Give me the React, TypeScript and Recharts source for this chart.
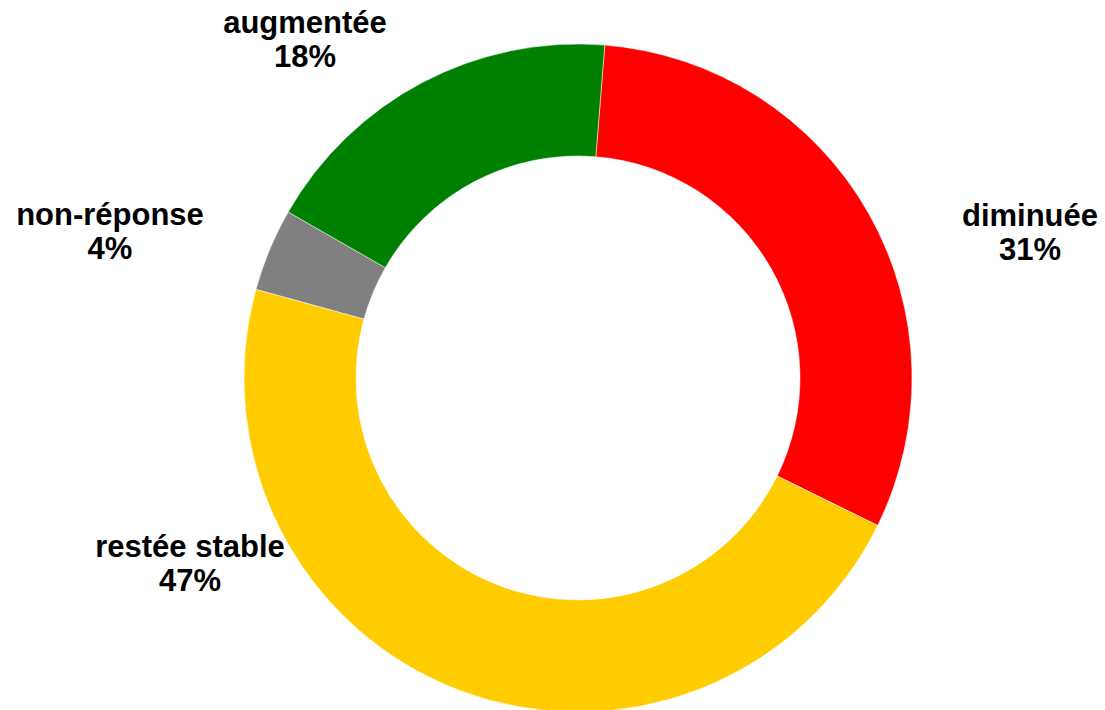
import { PieChart, Pie, Cell } from 'recharts'

const categories = ['diminuée', 'restée stable', 'non-réponse', 'augmentée']
const shares = [31, 47, 4, 18]
const colors = ['#ff0000', '#ffcc00', '#808080', '#008000']

// label anchors relative to the pie centre (x centre, first baseline)
const labelOffsets = [
  [452, -152],
  [-388, 179],
  [-468, -153],
  [-273, -345],
]

const data = categories.map((name, i) => ({ name, value: shares[i] }))

const renderLabel = (props: any) => {
  const { cx, cy, index, value, name } = props
  const [dx, dy] = labelOffsets[index]
  const x = cx + dx
  const y = cy + dy
  return (
    <text
      x={x}
      y={y}
      textAnchor="middle"
      fontFamily="'Liberation Sans', Arial, sans-serif"
      fontWeight="bold"
      fontSize={31}
      fill="#000"
    >
      <tspan x={x} y={y}>{name}</tspan>
      <tspan x={x} y={y + 34}>{value}%</tspan>
    </text>
  )
}

export default function App() {
  return (
    <div style={{ position: 'absolute', left: 0, top: 0, background: '#fff' }}>
      <PieChart width={1105} height={710} margin={{ top: 0, right: 0, bottom: 0, left: 0 }}>
        <Pie
          data={data}
          dataKey="value"
          nameKey="name"
          cx={578}
          cy={378}
          innerRadius={222}
          outerRadius={334}
          startAngle={85.4}
          endAngle={-274.6}
          stroke="#ffffff"
          strokeWidth={0.5}
          label={renderLabel}
          labelLine={false}
          isAnimationActive={false}
        >
          {data.map((d, i) => (
            <Cell key={d.name} fill={colors[i]} />
          ))}
        </Pie>
      </PieChart>
    </div>
  )
}
